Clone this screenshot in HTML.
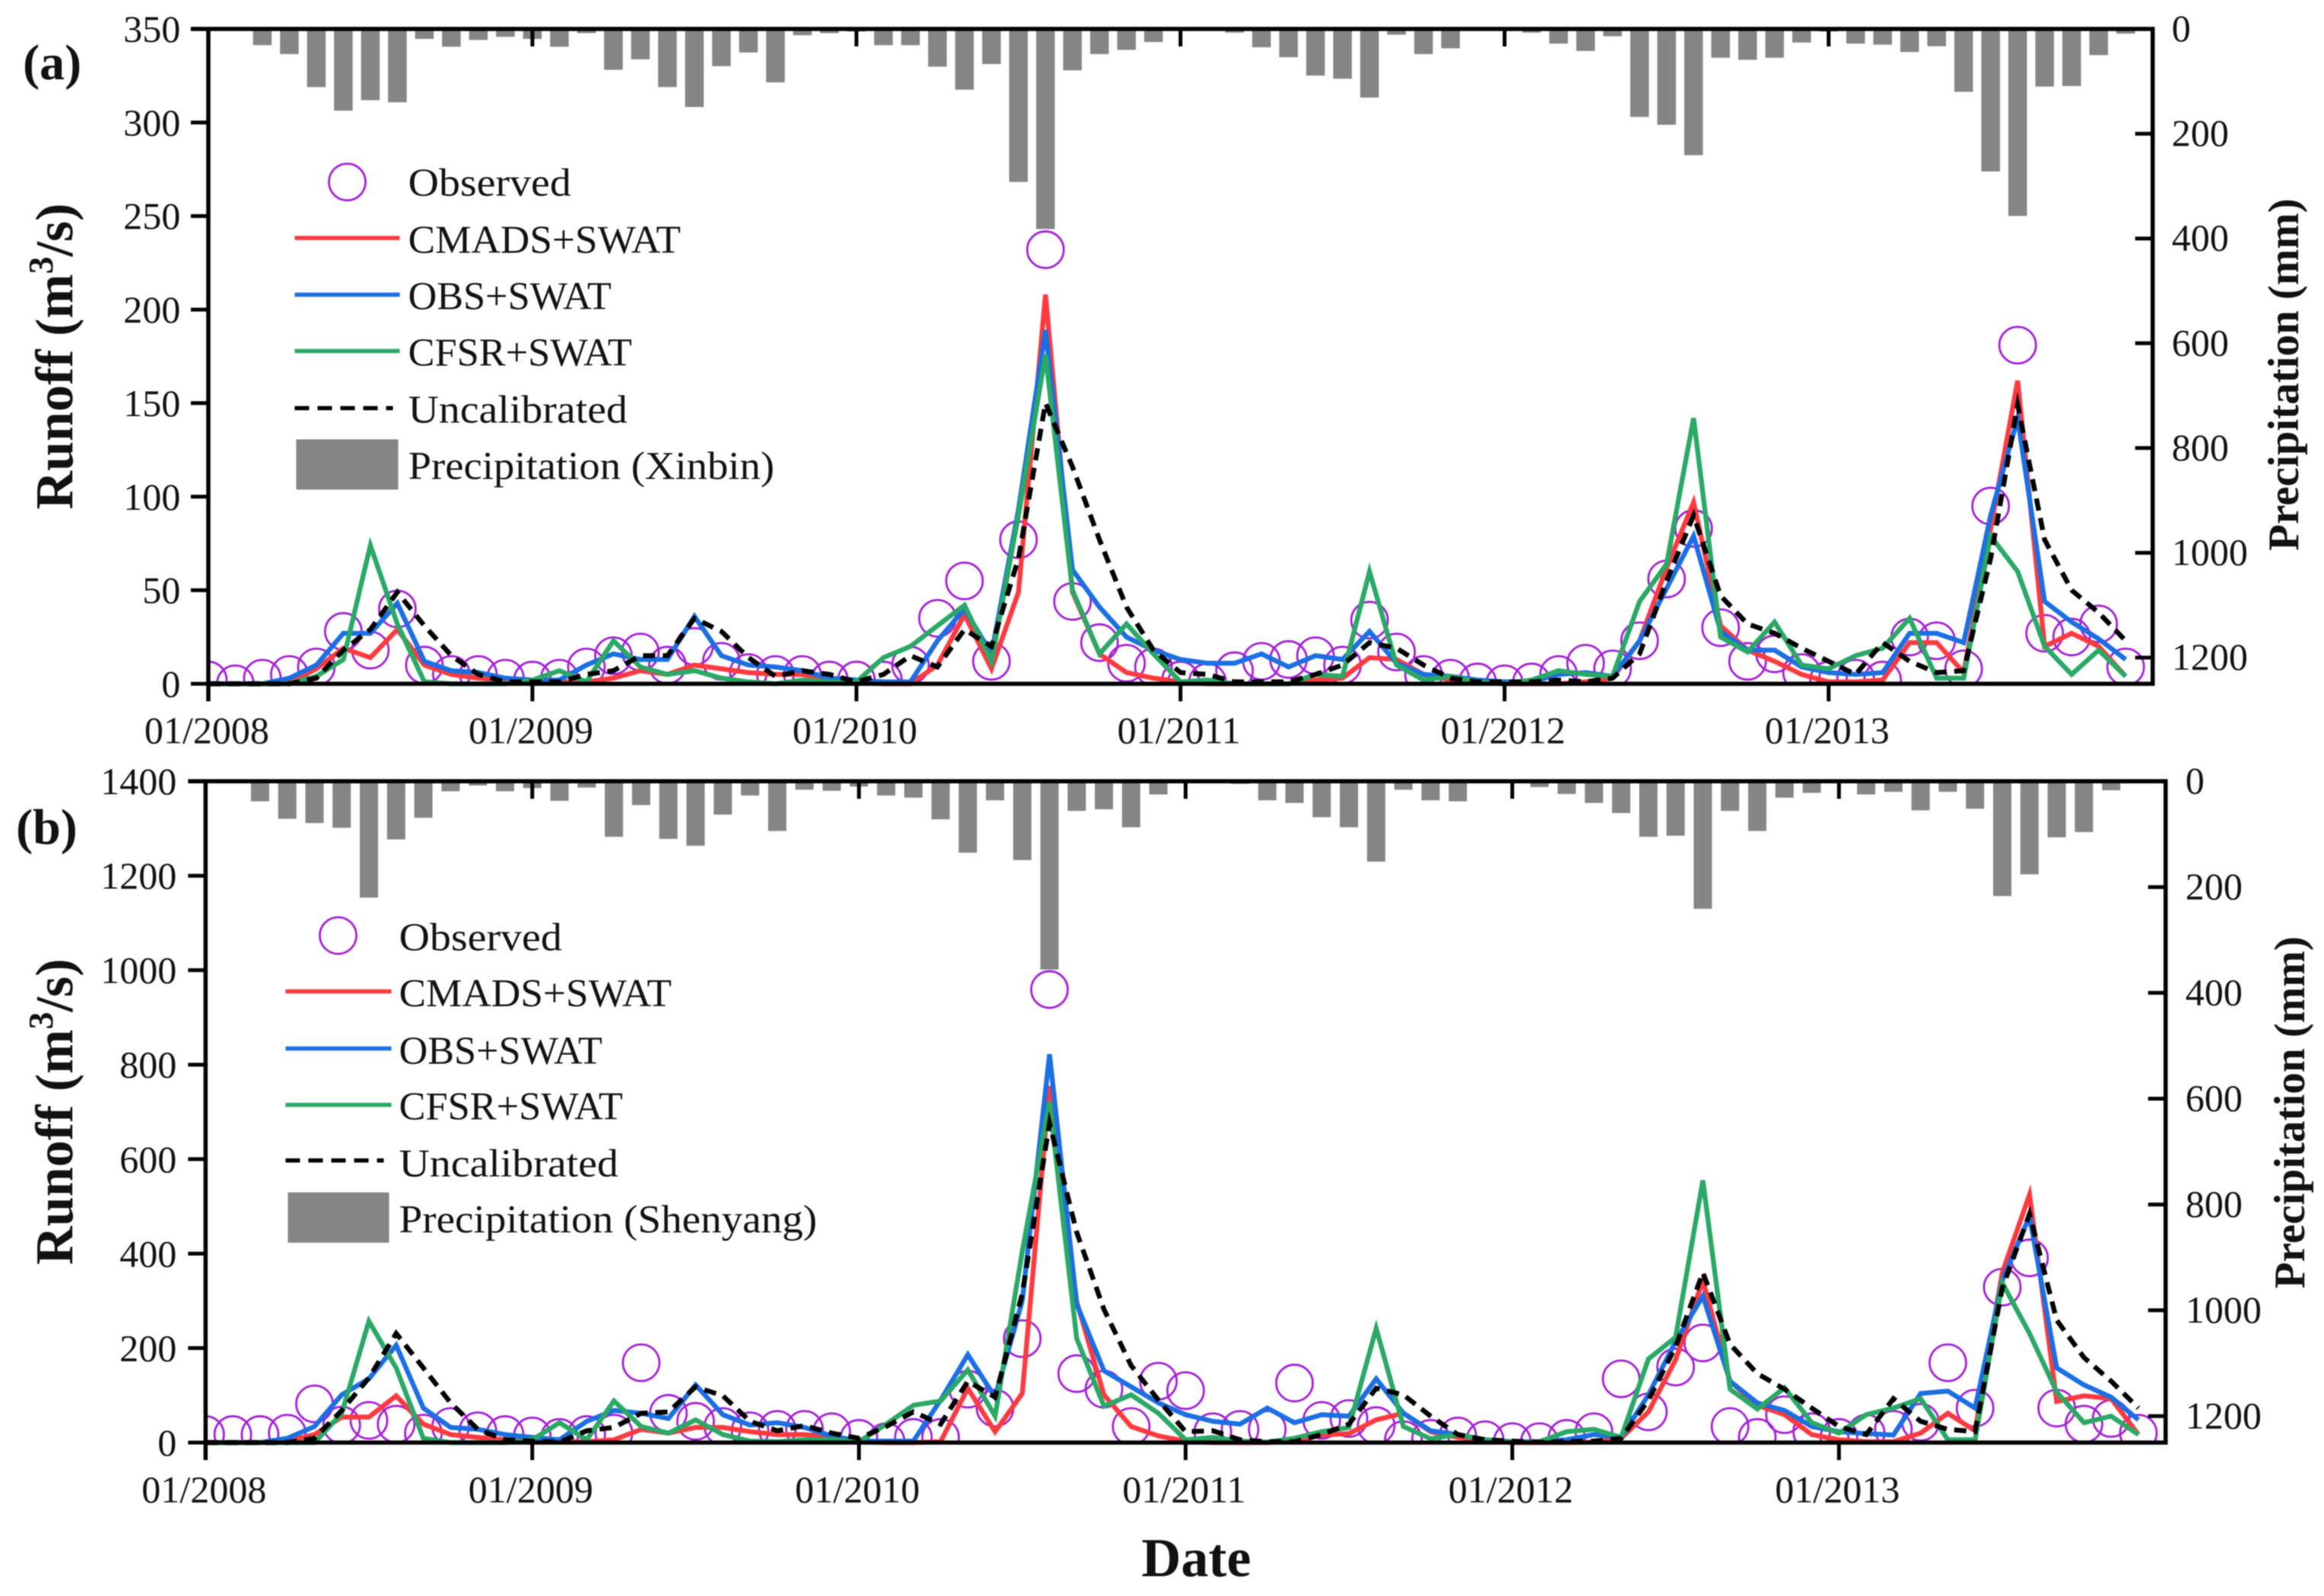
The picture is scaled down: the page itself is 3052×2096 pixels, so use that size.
<!DOCTYPE html>
<html lang="en">
<head>
<meta charset="utf-8">
<title>Runoff and precipitation, Xinbin and Shenyang, 2008-2013</title>
<style>
html,body{margin:0;padding:0;background:#fff;width:3052px;height:2096px;overflow:hidden}
svg{display:block;filter:blur(0.7px)}
text{font-family:"Liberation Serif",serif;fill:#111}
.tick{font-size:50px}
.leg{font-size:52px}
.title{font-weight:bold}
</style>
</head>
<body>
<svg id="chart" xmlns="http://www.w3.org/2000/svg" width="3052" height="2096" viewBox="0 0 3052 2096">
  <defs>
    <clipPath id="clip-a"><rect x="273.6" y="38" width="2553.4" height="860"/></clipPath>
    <clipPath id="clip-b"><rect x="270" y="1026" width="2574" height="868.5"/></clipPath>
  </defs>
  <g id="panel-a"></g>
  <g id="panel-b"></g>

  <text class="title" x="30" y="104" font-size="66">(a)</text>
  <text class="title" x="21" y="1108" font-size="66">(b)</text>

  <text class="title" font-size="70" text-anchor="middle" transform="translate(95,468) rotate(-90)">Runoff (m<tspan dy="-26" font-size="46">3</tspan><tspan dy="26">/s)</tspan></text>
  <text class="title" font-size="70" text-anchor="middle" transform="translate(95,1460) rotate(-90)">Runoff (m<tspan dy="-26" font-size="46">3</tspan><tspan dy="26">/s)</tspan></text>
  <text class="title" font-size="57" text-anchor="middle" transform="translate(3018,492) rotate(-90)">Precipitation (mm)</text>
  <text class="title" font-size="57" text-anchor="middle" transform="translate(3026,1461) rotate(-90)">Precipitation (mm)</text>
  <text class="title" font-size="72" text-anchor="middle" x="1571" y="2070">Date</text>

  <g>
    <circle cx="456" cy="239" r="24" fill="none" stroke="#a41fd6" stroke-width="2.8"/>
    <text class="leg" x="536" y="257" textLength="214" lengthAdjust="spacingAndGlyphs">Observed</text>
    <line x1="387" x2="525" y1="312.5" y2="312.5" stroke="#fb3a3f" stroke-width="5.5"/>
    <text class="leg" x="536" y="332" textLength="358" lengthAdjust="spacingAndGlyphs">CMADS+SWAT</text>
    <line x1="387" x2="525" y1="387" y2="387" stroke="#1b6fe3" stroke-width="5.5"/>
    <text class="leg" x="536" y="406" textLength="267" lengthAdjust="spacingAndGlyphs">OBS+SWAT</text>
    <line x1="387" x2="525" y1="461" y2="461" stroke="#2aa866" stroke-width="5.5"/>
    <text class="leg" x="536" y="480" textLength="294" lengthAdjust="spacingAndGlyphs">CFSR+SWAT</text>
    <line x1="387" x2="516" y1="536" y2="536" stroke="#000" stroke-width="5.5" stroke-dasharray="19 11"/>
    <text class="leg" x="536" y="555" textLength="288" lengthAdjust="spacingAndGlyphs">Uncalibrated</text>
    <rect x="389" y="577" width="134" height="66" fill="#858585"/>
    <text class="leg" x="536" y="629" textLength="481" lengthAdjust="spacingAndGlyphs">Precipitation (Xinbin)</text>
  </g>

  <g>
    <circle cx="444" cy="1228.6" r="24" fill="none" stroke="#a41fd6" stroke-width="2.8"/>
    <text class="leg" x="524" y="1248" textLength="214" lengthAdjust="spacingAndGlyphs">Observed</text>
    <line x1="375" x2="514" y1="1302" y2="1302" stroke="#fb3a3f" stroke-width="5.5"/>
    <text class="leg" x="524" y="1321.5" textLength="358" lengthAdjust="spacingAndGlyphs">CMADS+SWAT</text>
    <line x1="375" x2="514" y1="1377" y2="1377" stroke="#1b6fe3" stroke-width="5.5"/>
    <text class="leg" x="524" y="1397" textLength="267" lengthAdjust="spacingAndGlyphs">OBS+SWAT</text>
    <line x1="375" x2="514" y1="1451" y2="1451" stroke="#2aa866" stroke-width="5.5"/>
    <text class="leg" x="524" y="1470" textLength="294" lengthAdjust="spacingAndGlyphs">CFSR+SWAT</text>
    <line x1="375" x2="504" y1="1524" y2="1524" stroke="#000" stroke-width="5.5" stroke-dasharray="19 11"/>
    <text class="leg" x="524" y="1545" textLength="288" lengthAdjust="spacingAndGlyphs">Uncalibrated</text>
    <rect x="378" y="1566" width="133" height="66" fill="#858585"/>
    <text class="leg" x="524" y="1618.6" textLength="549" lengthAdjust="spacingAndGlyphs">Precipitation (Shenyang)</text>
  </g>
</svg>

<script>
// Monthly values, January 2008 to December 2013 (72 months per series)
var yearLabels = ["01/2008","01/2009","01/2010","01/2011","01/2012","01/2013"];
var runoffTicksA = [0,50,100,150,200,250,300,350];
var runoffTicksB = [0,200,400,600,800,1000,1200,1400];
var precipTicks = [0,200,400,600,800,1000,1200];

var observedA = [2,0,3,5,9,28,18,40,10,5,5,3, 2,3,9,15,17,10,20,12,6,5,5,2, 2,2,10,35,55,12,77,232,44,22,11,9, 2,1,7,12,13,15,10,34,17,5,3,1, 0,1,5,11,8,23,56,83,30,12,16,6, 2,3,2,25,23,8,95,181,27,25,32,9];
var cmadsA = [0,0,0,1,8,19,14,29,10,5,3,2, 1,1,1,3,7,5,10,8,6,5,5,2, 1,0,0,10,37,8,49,208,49,16,6,3, 1,0,0,0,0,2,3,14,13,5,2,1, 0,0,0,1,3,23,62,97,31,18,12,5, 1,1,2,22,22,6,83,162,20,27,20,4];
var obsSwatA = [0,0,0,3,10,27,27,43,12,7,6,3, 2,2,10,16,13,13,36,15,10,9,7,3, 2,1,1,23,40,16,93,189,61,41,25,18, 13,11,11,16,9,15,13,28,11,5,4,2, 1,1,5,6,4,23,51,79,28,18,18,9, 6,5,6,27,27,22,90,142,44,33,24,13];
var cfsrA = [0,0,0,0,4,13,74,32,1,0,0,0, 2,7,1,23,9,5,7,3,1,0,2,1, 1,14,20,31,42,12,90,176,50,16,32,16, 1,2,0,0,0,5,4,60,10,2,4,1, 0,2,7,5,4,44,64,142,25,17,33,10, 8,15,19,35,3,3,79,60,20,5,18,4];
var uncalibratedA = [0,0,0,0,3,18,29,49,31,15,5,1, 1,1,5,7,15,15,35,28,14,4,7,5, 1,5,15,9,29,20,67,150,116,77,41,18, 6,5,1,1,1,5,10,22,19,10,3,1, 1,1,2,1,3,16,55,90,47,32,27,19, 12,5,22,12,6,7,67,149,77,50,38,23];
var precipA = [0,3,31,48,111,156,136,140,19,34,21,15, 19,34,8,78,58,111,149,71,45,102,12,8, 5,31,31,72,116,67,292,382,79,48,40,25, 2,0,7,35,54,89,95,131,11,48,37,1, 0,7,28,42,14,168,183,241,55,59,55,26, 5,28,30,44,33,120,272,357,110,109,50,9];

var observedB = [17,17,17,20,82,37,47,39,20,34,25,17, 14,11,17,20,169,62,45,34,25,28,28,23, 9,2,11,11,113,73,220,959,146,113,34,130, 110,23,28,28,126,47,51,36,6,9,14,6, 2,2,9,23,135,65,160,211,34,11,59,23, 11,20,28,43,169,73,329,391,73,39,51,20];
var cmadsB = [0,0,0,3,17,54,54,99,39,17,11,6, 3,2,2,6,28,20,32,32,23,17,17,11, 2,0,0,2,115,23,104,755,298,101,34,14, 3,0,0,0,3,16,19,48,62,23,11,6, 0,0,0,1,9,65,175,343,130,79,59,17, 6,2,2,20,62,25,360,525,87,99,93,17];
var obsSwatB = [0,0,0,9,34,101,135,206,73,32,28,17, 11,6,45,68,62,51,122,59,37,42,32,14, 3,3,3,90,186,96,300,822,293,152,118,84, 59,45,39,73,42,59,56,135,62,25,17,6, 2,2,6,17,11,101,214,310,130,84,68,34, 23,19,16,104,109,73,343,479,158,122,96,48];
var cfsrB = [0,0,0,0,0,62,257,158,9,0,0,0, 6,42,6,88,34,20,48,17,3,2,6,6, 2,39,79,88,154,56,405,721,220,77,101,62, 6,11,3,1,9,23,32,242,34,8,17,6, 1,2,23,28,11,177,223,555,113,71,116,42, 20,59,73,93,6,6,338,231,107,42,56,17];
var uncalibratedB = [0,0,0,0,9,68,137,231,158,84,28,6, 3,1,25,32,62,65,118,99,45,25,36,20, 9,34,65,39,130,96,315,676,445,282,163,90, 23,25,6,2,2,17,39,115,101,56,17,6, 3,1,2,3,9,90,203,360,208,146,113,73, 34,17,93,45,28,23,327,484,259,180,130,73];
var precipB = [0,0,38,71,79,88,220,110,69,19,8,19, 13,37,12,105,45,109,122,63,27,94,16,18, 10,27,31,72,135,36,149,356,56,53,87,25, 3,0,5,36,41,68,87,152,16,36,38,1, 1,11,24,41,60,105,103,241,56,94,31,22, 3,25,20,55,20,52,217,176,106,96,17,0];

var SVGNS = "http://www.w3.org/2000/svg";

function make(tag, parent, attrs) {
  var el = document.createElementNS(SVGNS, tag);
  for (var k in attrs) { el.setAttribute(k, attrs[k]); }
  parent.appendChild(el);
  return el;
}

function drawPanel(p) {
  var root = document.getElementById(p.id);
  var monthWidth = (p.x1 - p.x0) / 72;
  function xAt(m) { return p.x0 + m * monthWidth; }
  function yRunoff(v) { return p.bottom - (v / p.runoffMax) * (p.bottom - p.top); }
  function yPrecip(v) { return p.top + (v / p.precipMax) * (p.bottom - p.top); }

  // precipitation bars
  p.precip.forEach(function (v, i) {
    var bar = make("rect", root, { x: xAt(i) - p.barW / 2, y: p.top, width: p.barW, height: Math.max(0, yPrecip(v) - p.top), fill: "#858585" });
    
    
  });

  // observed circles
  var circleGroup = make("g", root, { "clip-path": "url(#" + p.clip + ")" });
  
  
  p.observed.forEach(function (v, i) {
    var c = make("circle", circleGroup, { cx: xAt(i), cy: yRunoff(v), r: 24, fill: "none", stroke: "#a41fd6", "stroke-width": 2.8 });
    
    
  });

  // simulated lines
  p.series.forEach(function (s) {
    var pts = s.values.map(function (v, i) { return xAt(i).toFixed(1) + "," + yRunoff(v).toFixed(1); }).join(" ");
    var line = make("polyline", root, { points: pts, fill: "none", stroke: s.color, "stroke-width": 6.4, "stroke-linejoin": "miter", "stroke-miterlimit": 6 });
    if (s.dash) { line.setAttribute("stroke-dasharray", s.dash); }
    
    
  });

  // frame
  var frame = make("path", root, { d: "M" + p.x0 + " " + p.bottom + "H" + p.x1 + "V" + p.top + "H" + (p.x0 - p.tickL) + "M" + p.x0 + " " + p.top + "V" + (p.bottom + p.tickL), fill: "none", stroke: "#000", "stroke-width": 5.5 });
  
  

  // left axis
  p.runoffTicks.forEach(function (v) {
    var y = yRunoff(v);
    var t = make("line", root, { x1: p.x0 - p.tickL, x2: p.x0, y1: y, y2: y, stroke: "#000", "stroke-width": 5 });
    
    
    var lb = make("text", root, { x: p.leftLabelX, y: y + 17, "text-anchor": "end", "class": "tick" });
    lb.textContent = String(v);
    
    
  });

  // right axis
  precipTicks.forEach(function (v) {
    var y = yPrecip(v);
    var t = make("line", root, { x1: p.x1 - p.tickL, x2: p.x1, y1: y, y2: y, stroke: "#000", "stroke-width": 5 });
    
    
    var lb = make("text", root, { x: p.rightLabelX, y: y + 16, "class": "tick" });
    lb.textContent = String(v);
    
    
  });

  // x axis
  yearLabels.forEach(function (label, i) {
    var x = xAt(i * 12);
    var t = make("line", root, { x1: x, x2: x, y1: p.bottom, y2: p.bottom + p.tickL, stroke: "#000", "stroke-width": 5 });
    
    
    var tt = make("line", root, { x1: x, x2: x, y1: p.top, y2: p.top + p.tickL, stroke: "#000", "stroke-width": 5 });
    
    
    var lb = make("text", root, { x: x - 2, y: p.xLabelY, "text-anchor": "middle", "class": "tick" });
    lb.textContent = label;
    
    
  });
}

drawPanel({
  id: "panel-a", clip: "clip-a", x0: 273.6, x1: 2827, top: 38, bottom: 898,
  runoffMax: 350, precipMax: 1250, barW: 24.5, tickL: 23,
  leftLabelX: 237, rightLabelX: 2852, xLabelY: 976,
  runoffTicks: runoffTicksA, precip: precipA, observed: observedA,
  series: [
    { name: "cmads-swat-line", values: cmadsA, color: "#fb3a3f" },
    { name: "obs-swat-line", values: obsSwatA, color: "#1b6fe3" },
    { name: "cfsr-swat-line", values: cfsrA, color: "#2aa866" },
    { name: "uncalibrated-line", values: uncalibratedA, color: "#000", dash: "16 10" }
  ]
});

drawPanel({
  id: "panel-b", clip: "clip-b", x0: 270, x1: 2844, top: 1026, bottom: 1894.5,
  runoffMax: 1400, precipMax: 1250, barW: 24, tickL: 23,
  leftLabelX: 232, rightLabelX: 2870, xLabelY: 1973,
  runoffTicks: runoffTicksB, precip: precipB, observed: observedB,
  series: [
    { name: "cmads-swat-line", values: cmadsB, color: "#fb3a3f" },
    { name: "obs-swat-line", values: obsSwatB, color: "#1b6fe3" },
    { name: "cfsr-swat-line", values: cfsrB, color: "#2aa866" },
    { name: "uncalibrated-line", values: uncalibratedB, color: "#000", dash: "16 10" }
  ]
});
</script>
</body>
</html>
